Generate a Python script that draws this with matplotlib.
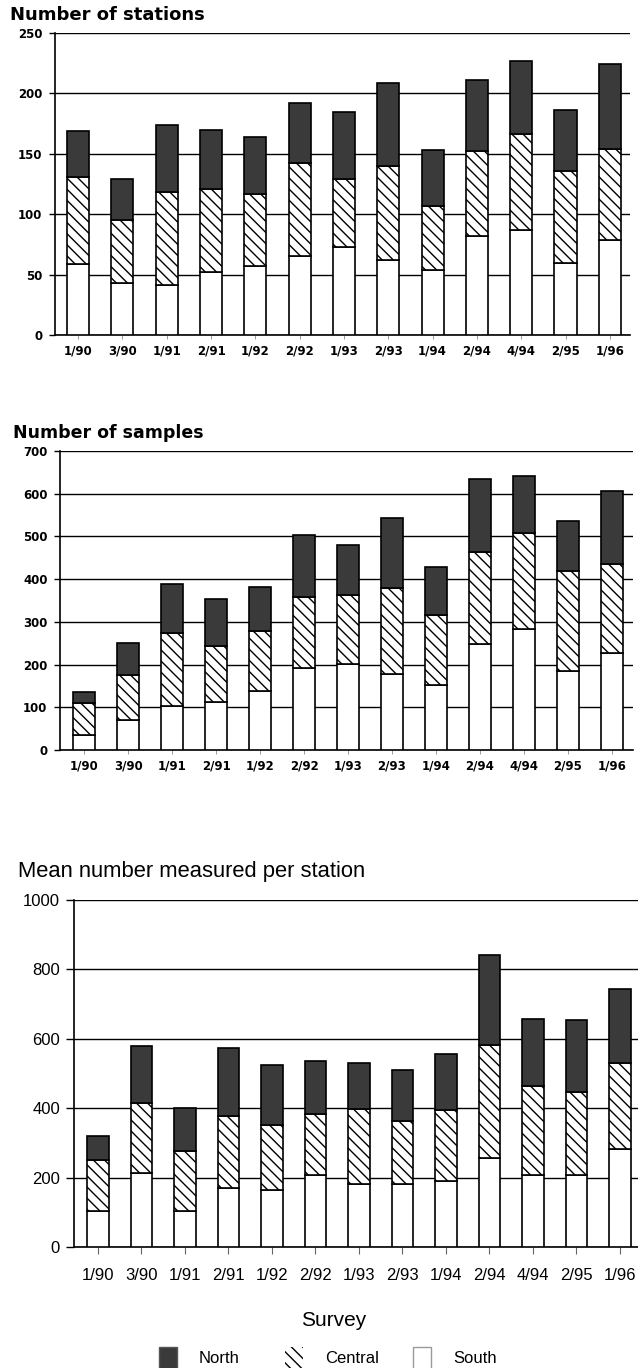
import matplotlib
matplotlib.use('Agg')
import matplotlib.pyplot as plt
from matplotlib.patches import Patch
from matplotlib import font_manager

surveys = ['1/90', '3/90', '1/91', '2/91', '1/92', '2/92', '1/93',
           '2/93', '1/94', '2/94', '4/94', '2/95', '1/96']

# number of stations
st_south = [59, 43, 41, 52, 57, 65, 73, 62, 54, 82, 87, 60, 79]
st_central = [72, 52, 77, 69, 60, 77, 56, 78, 53, 70, 79, 76, 75]
st_north = [38, 34, 56, 49, 47, 50, 56, 69, 46, 59, 61, 50, 70]

# number of samples
sa_south = [36, 69, 104, 113, 139, 192, 201, 178, 151, 248, 283, 184, 226]
sa_central = [73, 106, 170, 130, 140, 167, 161, 201, 166, 215, 226, 234, 209]
sa_north = [27, 76, 115, 111, 102, 144, 118, 163, 111, 172, 132, 119, 172]

# mean number measured per station
mn_south = [103, 213, 103, 171, 163, 207, 180, 181, 189, 257, 206, 208, 283]
mn_central = [147, 202, 174, 206, 187, 176, 216, 181, 206, 325, 259, 238, 247]
mn_north = [71, 165, 124, 196, 174, 154, 134, 147, 162, 258, 191, 208, 212]

regions = ['North', 'Central', 'South']

names = [f.name for f in font_manager.fontManager.ttflist]
narrow = 'Liberation Sans Narrow' if 'Liberation Sans Narrow' in names else 'Liberation Sans'

DARK = '#3a3a3a'
HATCH = '\\' * 3
plt.rcParams['hatch.linewidth'] = 1.0

fig = plt.figure(figsize=(6.38, 13.68), dpi=100)


def draw_panel(ax, south, central, north, ymax, ystep, xlim, bold):
    x = list(range(len(surveys)))
    bot2 = [s + c for s, c in zip(south, central)]
    ax.bar(x, south, width=0.5, color='white', edgecolor='black', linewidth=1.2, zorder=3)
    ax.bar(x, central, width=0.5, bottom=south, color='white', edgecolor='black',
           hatch=HATCH, linewidth=1.2, zorder=3)
    ax.bar(x, north, width=0.5, bottom=bot2, color=DARK, edgecolor='black',
           linewidth=1.2, zorder=3)
    ax.set_xlim(*xlim)
    ax.set_ylim(0, ymax)
    ax.set_yticks(range(0, ymax + 1, ystep))
    ax.yaxis.grid(True, color='black', linewidth=1.0, zorder=0)
    ax.set_axisbelow(True)
    for s in ['top', 'right']:
        ax.spines[s].set_visible(False)
    ax.spines['left'].set_linewidth(1.2)
    ax.spines['bottom'].set_linewidth(1.2)
    ax.set_xticks(x)
    ax.set_xticklabels(surveys)
    if bold:
        for lab in ax.get_xticklabels() + ax.get_yticklabels():
            lab.set_fontfamily('DejaVu Sans')
            lab.set_fontweight('bold')
            lab.set_fontsize(8.5)
        ax.tick_params(axis='y', length=4, width=1, pad=5)
        ax.tick_params(axis='x', length=3, width=0.6, color='#888888', pad=4)
    else:
        for lab in ax.get_xticklabels() + ax.get_yticklabels():
            lab.set_fontfamily(narrow)
            lab.set_fontsize(12)
        ax.tick_params(axis='y', length=6, width=1, pad=4)
        ax.tick_params(axis='x', length=5, width=0.8, color='#666666', pad=10)


ax1 = fig.add_axes([0.0862, 0.7551, 0.901, 0.2208])
draw_panel(ax1, st_south, st_central, st_north, 250, 50, (-0.52, 12.45), True)
fig.text(0.015, 0.9887, 'Number of stations', fontsize=13, fontweight='bold',
         family='DejaVu Sans', va='center')

ax2 = fig.add_axes([0.094, 0.4518, 0.898, 0.2185])
draw_panel(ax2, sa_south, sa_central, sa_north, 700, 100, (-0.55, 12.48), True)
fig.text(0.021, 0.6835, 'Number of samples', fontsize=12.5, fontweight='bold',
         family='DejaVu Sans', va='center')

ax3 = fig.add_axes([0.116, 0.0885, 0.8966, 0.2537])
draw_panel(ax3, mn_south, mn_central, mn_north, 1000, 200, (-0.55, 12.6), False)
fig.text(0.028, 0.3626, 'Mean number measured per station', fontsize=15.8,
         family=narrow, va='center')

fig.text(0.523, 0.035, 'Survey', fontsize=15, family=narrow, ha='center', va='center')

handles = [Patch(facecolor=DARK, edgecolor='#555555'),
           Patch(facecolor='white', edgecolor='black', linewidth=0, hatch=HATCH),
           Patch(facecolor='white', edgecolor='#999999')]
for h, name, xpos in zip(handles, regions, [0.2492, 0.4467, 0.6473]):
    fig.legend(handles=[h], labels=[name], loc='center left',
               bbox_to_anchor=(xpos, 0.0073), frameon=False, borderpad=0,
               borderaxespad=0, prop={'family': narrow, 'size': 12},
               handlelength=1.1, handleheight=1.6, handletextpad=1.3)

fig.savefig('out.png', dpi=100)
